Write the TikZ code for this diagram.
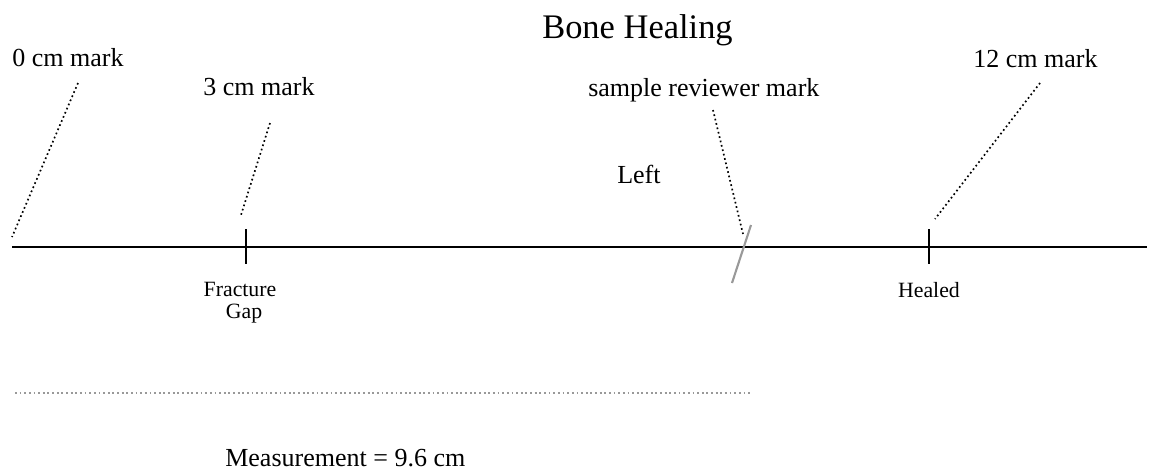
\documentclass[tikz,border=0pt]{standalone}
\usepackage{fontspec}
\setmainfont{Liberation Serif}
\usepackage{tikz}
\usetikzlibrary{positioning,calc}
\definecolor{slashgray}{rgb}{0.6,0.6,0.6}

\begin{document}
\begin{tikzpicture}[x=0.025cm, y=-0.025cm,
  marklabel/.style={anchor=base west, inner sep=0pt, font=\fontsize{18.5}{22}\selectfont},
  smalllabel/.style={anchor=base, inner sep=0pt, font=\fontsize{15.5}{18}\selectfont},
  leader/.style={dotted, line width=1.2pt},
  axisline/.style={line width=1.7pt}]
  \useasboundingbox (0,0) rectangle (1149,475);
  % title
  \node[anchor=base west, inner sep=0pt, font=\fontsize{24.5}{28}\selectfont] (title) at (542,38) {Bone Healing};
  % mark labels
  \node[marklabel] (zero) at (12,66) {0 cm mark};
  \node[marklabel] (three) at (203,95) {3 cm mark};
  \node[marklabel] (reviewer) at (588,96) {sample reviewer mark};
  \node[marklabel] (twelve) at (973,67) {12 cm mark};
  \node[marklabel] (left) at (617,183) {Left};
  % the bone axis
  \coordinate (axisL) at (12,247);
  \coordinate (axisR) at (1147,247);
  \draw[axisline] (axisL) -- (axisR);
  \coordinate (gapT) at (246,229); \coordinate (gapB) at (246,264);
  \coordinate (healT) at (929,229); \coordinate (healB) at (929,264);
  \draw[axisline] (gapT) -- (gapB);
  \draw[axisline] (healT) -- (healB);
  \node[smalllabel] (fracture) at (240,296) {Fracture};
  \node[smalllabel] (gap) at (244,318) {Gap};
  \node[smalllabel] (healed) at (929,297) {Healed};
  % reviewer slash
  \coordinate (slashT) at (751,225); \coordinate (slashB) at (732,283);
  \draw[slashgray, line width=1.5pt] (slashT) -- (slashB);
  % leaders from the labels
  \coordinate (zeroA) at (78,83);   \coordinate (zeroB) at (12,237);
  \coordinate (threeA) at (270,123); \coordinate (threeB) at (241,215);
  \coordinate (revA) at (713,110);  \coordinate (revB) at (743,234);
  \coordinate (twelveA) at (1040,83); \coordinate (twelveB) at (935,219);
  \draw[leader] (zeroA) -- (zeroB);
  \draw[leader] (threeA) -- (threeB);
  \draw[leader] (revA) -- (revB);
  \draw[leader] (twelveA) -- (twelveB);
  % measured length
  \coordinate (measL) at (15,393); \coordinate (measR) at (752,393);
  \draw[slashgray, dotted, line width=1.3pt] (measL) -- (measR);
  \node[marklabel] (meas) at (225,466) {Measurement = 9.6 cm};
\end{tikzpicture}
\end{document}
